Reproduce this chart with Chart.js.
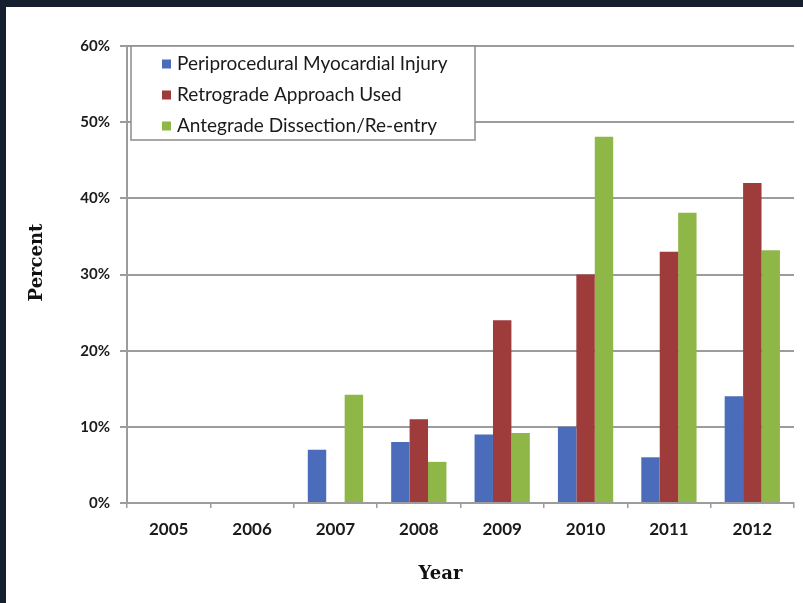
<!DOCTYPE html>
<html>
<head>
<meta charset="utf-8">
<script src="https://cdn.jsdelivr.net/npm/chart.js@4/dist/chart.umd.min.js"></script>
<style>
  html, body { margin: 0; padding: 0; background: #151f2d; width: 803px; height: 603px; overflow: hidden; }
  #frame { position: absolute; left: 6px; top: 7px; width: 797px; height: 596px; background: #ffffff; }
  canvas { display: block; }
</style>
</head>
<body>
<div id="frame"><canvas id="chart" width="797" height="596"></canvas></div>
<script>
// Procedure years on the x axis
const years = ['2005', '2006', '2007', '2008', '2009', '2010', '2011', '2012'];

// Series names, shown in the legend
const seriesNames = ['Periprocedural Myocardial Injury', 'Retrograde Approach Used', 'Antegrade Dissection/Re-entry'];

// Percent of cases per year
const myocardialInjury = [0, 0, 7, 8, 9, 10, 6, 14];
const retrogradeApproach = [0, 0, 0, 11, 24, 30, 33, 42];
const antegradeDissection = [0, 0, 14.2, 5.4, 9.2, 48.1, 38.1, 33.2];

// Y axis range and tick step, in percent
const yMin = 0;
const yMax = 60;
const yStep = 10;

const seriesColors = ['#4b6cba', '#9e3b3b', '#8fb748'];
const gridColor = '#9c9c9c';
const textColor = '#1a1a1a';

// Boxed legend drawn inside the upper-left corner of the plot area
const boxedLegend = {
  id: 'boxedLegend',
  afterDatasetsDraw(chart) {
    const { ctx, chartArea } = chart;
    const x0 = chartArea.left + 4;
    const y0 = chartArea.top;
    const w = 344;
    const h = 94;
    ctx.save();
    ctx.fillStyle = '#ffffff';
    ctx.fillRect(x0, y0, w, h);
    ctx.strokeStyle = '#8c8c8c';
    ctx.lineWidth = 1.5;
    ctx.strokeRect(x0, y0, w, h);
    ctx.font = '19px Lato, "Open Sans", sans-serif';
    ctx.textBaseline = 'middle';
    ctx.textAlign = 'left';
    chart.data.datasets.forEach((ds, i) => {
      const cy = y0 + 18 + i * 31;
      ctx.fillStyle = ds.backgroundColor;
      ctx.fillRect(x0 + 31, cy - 4.5, 9, 9);
      ctx.fillStyle = textColor;
      ctx.fillText(ds.label, x0 + 46, cy);
    });
    ctx.restore();
  }
};

// Axis titles, placed relative to the plot area
const axisTitles = {
  id: 'axisTitles',
  afterDraw(chart) {
    const { ctx, chartArea } = chart;
    ctx.save();
    ctx.fillStyle = '#111111';
    ctx.font = 'bold 18px "DejaVu Serif", serif';
    ctx.textAlign = 'center';
    ctx.textBaseline = 'middle';
    ctx.fillText('Year', (chartArea.left + chartArea.right) / 2 - 20, chartArea.bottom + 71);
    ctx.translate(chartArea.left - 90, (chartArea.top + chartArea.bottom) / 2 - 12);
    ctx.rotate(-Math.PI / 2);
    ctx.fillText('Percent', 0, 0);
    ctx.restore();
  }
};

const seriesData = [myocardialInjury, retrogradeApproach, antegradeDissection];

new Chart(document.getElementById('chart'), {
  type: 'bar',
  data: {
    labels: years,
    datasets: seriesNames.map((name, i) => ({
      label: name,
      data: seriesData[i],
      backgroundColor: seriesColors[i],
      borderWidth: 0,
      categoryPercentage: 0.663,
      barPercentage: 1.0
    }))
  },
  options: {
    responsive: false,
    animation: false,
    devicePixelRatio: 1,
    layout: { padding: { left: 0, top: 39, right: 9, bottom: 0 } },
    plugins: {
      legend: { display: false },
      tooltip: { enabled: false },
      title: { display: false }
    },
    scales: {
      x: {
        offset: true,
        grid: {
          display: true,
          offset: true,
          drawOnChartArea: false,
          drawTicks: true,
          tickLength: 5,
          color: gridColor,
          lineWidth: 1.5
        },
        border: { display: true, color: gridColor, width: 2 },
        ticks: {
          color: textColor,
          font: { family: 'Lato, "Open Sans", sans-serif', size: 17, weight: 'bold' },
          padding: 11,
          maxRotation: 0
        },
        afterFit(scale) { scale.height = 100; }
      },
      y: {
        min: yMin,
        max: yMax,
        grid: {
          color: gridColor,
          lineWidth: 2,
          tickLength: 7,
          drawTicks: true
        },
        border: { display: true, color: gridColor, width: 2 },
        ticks: {
          stepSize: yStep,
          color: textColor,
          font: { family: 'Lato, "Open Sans", sans-serif', size: 15, weight: 'bold' },
          padding: 10,
          callback: (v) => v + '%'
        },
        afterFit(scale) { scale.width = 121; }
      }
    }
  },
  plugins: [boxedLegend, axisTitles]
});
</script>
</body>
</html>
